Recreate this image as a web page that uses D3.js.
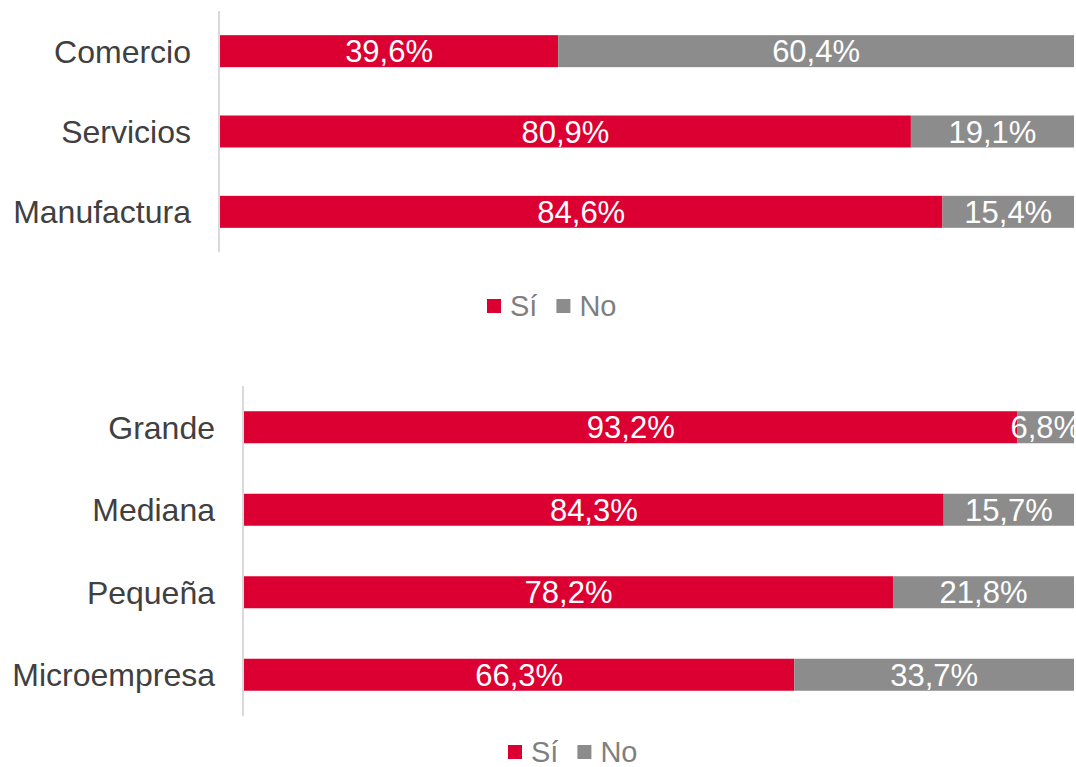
<!DOCTYPE html>
<html><head><meta charset="utf-8">
<script src="https://cdn.jsdelivr.net/npm/d3@7"></script>
<style>body{margin:0;background:#fff;font-family:"Liberation Sans",Arial,sans-serif}</style>
</head><body>
<svg id="c" width="1076" height="767"></svg>
<script>
const seriesNames = ["Sí", "No"];
const colors = ["#DC0032", "#8C8C8C"];

const sectorCats = ["Comercio", "Servicios", "Manufactura"];
const sectorSi = [39.6, 80.9, 84.6];
const sectorNo = [60.4, 19.1, 15.4];

const sizeCats = ["Grande", "Mediana", "Pequeña", "Microempresa"];
const sizeSi = [93.2, 84.3, 78.2, 66.3];
const sizeNo = [6.8, 15.7, 21.8, 33.7];

const svg = d3.select("#c");
const fmt = v => v.toFixed(1).replace(".", ",") + "%";

function drawChart(cats, si, no, box, legendPos) {
  const x = d3.scaleLinear().domain([0, 100]).range([box.x0, box.x1]);
  const step = (box.y1 - box.y0) / cats.length;
  const pi = 1 - 32 / step;
  const y = d3.scaleBand().domain(cats).range([box.y0, box.y1]).paddingInner(pi).paddingOuter(pi / 2);
  const g = svg.append("g");
  const rows = cats.map((c, i) => ({ c, vals: [si[i], no[i]] }));
  rows.forEach(r => {
    let acc = 0;
    r.vals.forEach((v, k) => {
      const xs = x(acc), xe = x(acc + v);
      g.append("rect").attr("x", xs).attr("y", y(r.c)).attr("width", xe - xs)
        .attr("height", y.bandwidth()).attr("fill", colors[k]);
      g.append("text").attr("x", (xs + xe) / 2).attr("y", y(r.c) + y.bandwidth() / 2)
        .attr("dy", "0.36em").attr("text-anchor", "middle").attr("fill", "#fff")
        .style("font-size", "31px").text(fmt(v));
      acc += v;
    });
  });
  // axis
  const ax = svg.append("g").attr("transform", `translate(${box.x0 - 1},0)`)
    .call(d3.axisLeft(y).tickSize(0).tickPadding(28));
  ax.select(".domain").attr("stroke", "#D9D9D9").attr("stroke-width", 2)
    .attr("d", `M0,${box.y0}V${box.y1}`);
  ax.selectAll("text").style("font-size", "32px").attr("fill", "#404040")
    .style("font-family", "'Liberation Sans',Arial,sans-serif").attr("dy", "0.36em");
  // legend
  const lg = svg.append("g").attr("transform", `translate(${legendPos.x},${legendPos.y})`);
  let lx = 0;
  seriesNames.forEach((n, k) => {
    lg.append("rect").attr("x", lx).attr("y", -7).attr("width", 14).attr("height", 14).attr("fill", colors[k]);
    const t = lg.append("text").attr("x", lx + 23).attr("y", 0).attr("dy", "0.36em")
      .attr("fill", "#7F7F7F").style("font-size", "29px").text(n);
    lx += 23 + t.node().getComputedTextLength() + 19;
  });
}

drawChart(sectorCats, sectorSi, sectorNo, { x0: 220, x1: 1074, y0: 11, y1: 252 }, { x: 487, y: 306 });
drawChart(sizeCats, sizeSi, sizeNo, { x0: 244, x1: 1074, y0: 386, y1: 716 }, { x: 508, y: 752 });
</script>
</body></html>
